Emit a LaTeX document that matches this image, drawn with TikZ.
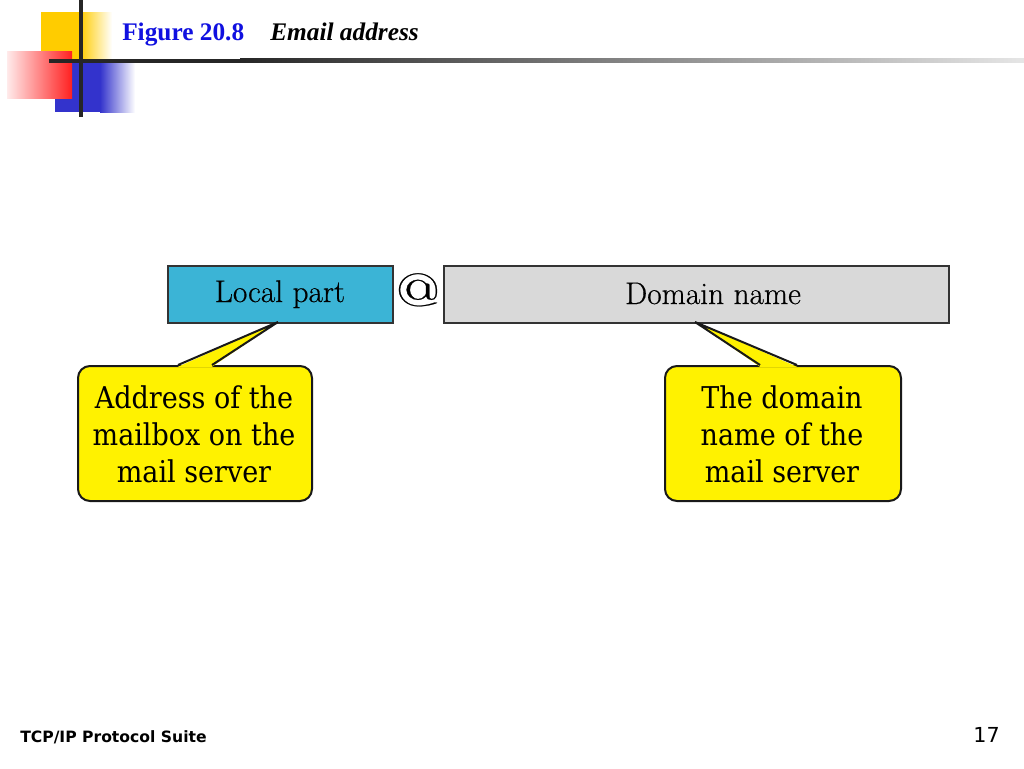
\documentclass[tikz,border=0pt]{standalone}
\usepackage{fontspec}
\setmainfont{Latin Modern Roman}
\newfontfamily\fieldf{Latin Modern Roman}[FakeBold=0.5]
\newfontfamily\timesf{Liberation Serif}
\newfontfamily\calloutf{DejaVu Serif Condensed}
\newfontfamily\footf{DejaVu Sans}
\definecolor{boxcyan}{HTML}{3BB4D6}
\definecolor{boxgray}{HTML}{D9D9D9}
\definecolor{titleblue}{HTML}{1010E0}
\definecolor{decyellow}{HTML}{FFCC00}
\definecolor{decred}{HTML}{FF2020}
\definecolor{decblue}{HTML}{3333CC}
\tikzset{
  field/.style={draw=black!80, line width=1.5pt, inner sep=0pt, anchor=north west},
  fieldtext/.style={anchor=base, inner sep=0pt, font=\fieldf\fontsize{23.5}{26}\selectfont},
  callout/.style={draw=black!90, line width=1.5pt, fill=yellow, rounded corners=9pt,
     inner sep=0pt, anchor=north west},
  callouttext/.style={anchor=center, align=center, inner sep=0pt,
     font=\calloutf\fontsize{22.5}{27.75}\selectfont},
  pointer/.style={draw=black!90, line width=1.5pt, line join=miter},
}
\begin{document}
\begin{tikzpicture}[x=0.75pt,y=-0.75pt]
\useasboundingbox (0,0) rectangle (1024,768);
\fill[white] (0,0) rectangle (1024,768);
% header decoration
\fill[decyellow] (41,12) rectangle (80,60);
\shade[left color=decyellow, right color=white] (80,12) rectangle (112,60);
\fill[decblue] (55,63) rectangle (100,112);
\shade[left color=decblue, right color=white] (100,63) rectangle (135,112);
\shade[left color=red!8, right color=decred] (7,51) rectangle (72,98);
\fill[black!85] (49,58.5) rectangle (240,62.5);
\shade[left color=black!85, right color=black!10] (240,58.5) rectangle (1024,62.5);
\fill[black!85] (78.5,0) rectangle (82.5,117);
% title
\node[anchor=base west, inner sep=0pt, text=titleblue, font=\timesf\bfseries\fontsize{19}{22}\selectfont] (fig) at (122,40) {Figure 20.8};
\node[anchor=base west, inner sep=0pt, font=\timesf\bfseries\itshape\fontsize{19}{22}\selectfont] (ttl) at (270,40) {Email address};
% fields
\node[field, fill=boxcyan, minimum width=225*0.75pt, minimum height=57*0.75pt] (local) at (167,265) {};
\node[fieldtext] (localt) at (280,302) {Local part};
\node[anchor=base, inner sep=0pt, font=\fieldf\fontsize{35}{38}\selectfont] (at) at (418,306) {\scalebox{1.3}[1]{@}};
\node[field, fill=boxgray, minimum width=505*0.75pt, minimum height=57*0.75pt] (domain) at (443,265) {};
\node[fieldtext] (domaint) at (713,304) {Domain name};
% callouts
\node[callout, minimum width=234*0.75pt, minimum height=135*0.75pt] (lc) at (77,365) {};
\node[callouttext] (lct) at (194,434) {Address of the\\mailbox on the\\mail server};
\node[callout, minimum width=236*0.75pt, minimum height=135*0.75pt] (rc) at (664,365) {};
\node[callouttext] (rct) at (782,434) {The domain\\name of the\\mail server};
% pointers
\coordinate (ltip) at (278,322);
\coordinate (la) at (178,365);
\coordinate (lb) at (212,365);
\fill[yellow] (178,366.8) -- (ltip) -- (212,366.8) -- cycle;
\draw[pointer] (la) -- (ltip) -- (lb);
\coordinate (rtip) at (695,322);
\coordinate (ra) at (760,365);
\coordinate (rb) at (797,365);
\fill[yellow] (760,366.8) -- (rtip) -- (797,366.8) -- cycle;
\draw[pointer] (ra) -- (rtip) -- (rb);
% footer
\node[anchor=base west, inner sep=0pt, font=\footf\bfseries\fontsize{11.7}{14}\selectfont] (foot) at (20,742) {TCP/IP Protocol Suite};
\node[anchor=base east, inner sep=0pt, font=\footf\fontsize{15.5}{18}\selectfont] (page) at (1000,742) {17};
\end{tikzpicture}
\end{document}
